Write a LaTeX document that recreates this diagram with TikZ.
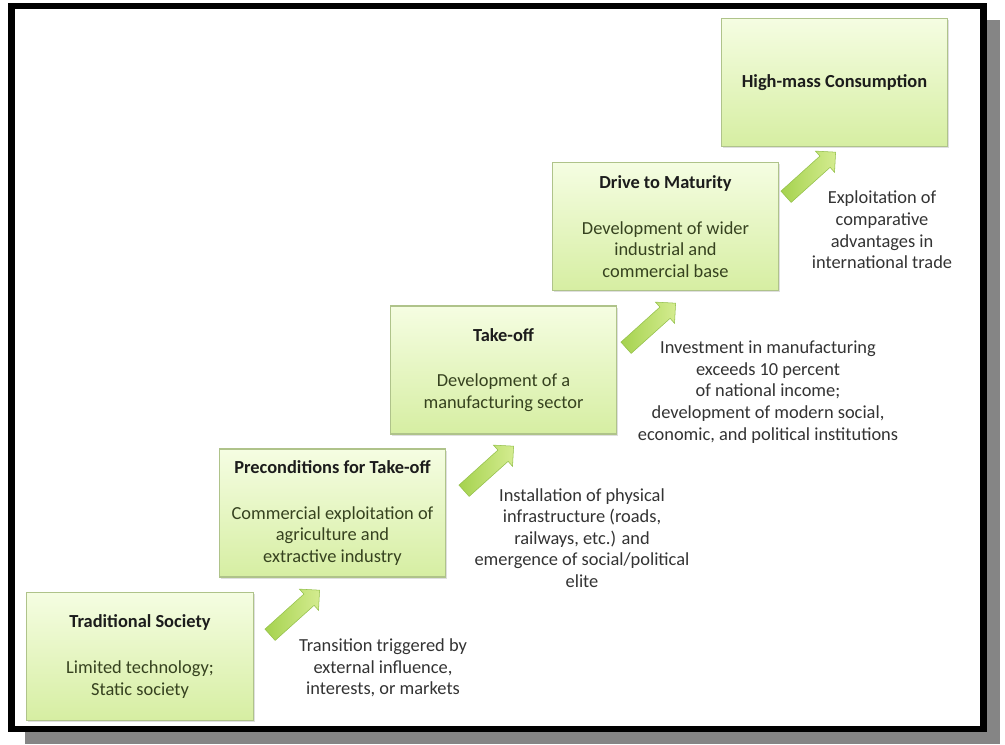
\documentclass[tikz,border=0pt]{standalone}
\usepackage{fontspec}
\setmainfont{Carlito}
\usetikzlibrary{shapes.arrows,shadows}
\definecolor{boxborder}{HTML}{AFC38A}
\definecolor{boxtop}{HTML}{F5FDE2}
\definecolor{boxbot}{HTML}{D6EEA2}
\definecolor{bodytext}{HTML}{36421F}
\definecolor{titletext}{HTML}{1C1C1C}
\definecolor{desctext}{HTML}{333333}
\definecolor{arrowA}{HTML}{D4EC90}
\definecolor{arrowB}{HTML}{A5D24E}
\definecolor{arrowborder}{HTML}{93C04A}
\definecolor{frameshadow}{HTML}{858585}
\begin{document}
\begin{tikzpicture}[x=0.75pt,y=-0.75pt,
  stagebox/.style={draw=boxborder, line width=0.8pt, top color=boxtop, bottom color=boxbot,
    minimum width=170pt, minimum height=96pt, align=center, text=bodytext,
    font=\fontsize{13.8}{16.2}\selectfont,
    drop shadow={shadow xshift=1.2pt, shadow yshift=-1.2pt, opacity=0.25}},
  greenarrow/.style={single arrow, draw=arrowborder, line width=0.4pt,
    left color=arrowB, right color=arrowA, inner xsep=0pt, inner ysep=5.5pt,
    single arrow head extend=5pt, single arrow head indent=0pt,
    minimum height=50pt, rotate=42},
  desc/.style={align=center, text=desctext, font=\fontsize{13.8}{16.2}\selectfont, inner sep=0pt}
]
\useasboundingbox (0,0) rectangle (1005,744);
% frame with shadow
\fill[frameshadow] (25,20) rectangle (1000,744);
\filldraw[fill=white, draw=black, line width=5pt] (11.5,6) rectangle (983.5,729);

% stage boxes
\node[stagebox] (s1) at (140,656.5) {\textcolor{titletext}{\textbf{Traditional Society}}\\[18pt]Limited technology;\\Static society};
\node[stagebox] (s2) at (332.5,513) {\textcolor{titletext}{\textbf{Preconditions for Take-off}}\\[18pt]Commercial exploitation of\\agriculture and\\extractive industry};
\node[stagebox] (s3) at (503.5,370) {\textcolor{titletext}{\textbf{Take-off}}\\[18pt]Development of a\\manufacturing sector};
\node[stagebox] (s4) at (665.5,226.5) {\textcolor{titletext}{\textbf{Drive to Maturity}}\\[18pt]Development of wider\\industrial and\\commercial base};
\node[stagebox] (s5) at (834.5,82.5) {\textcolor{titletext}{\textbf{High-mass Consumption}}};

% arrows
\node[greenarrow] (a1) at (292,615) {};
\node[greenarrow] (a2) at (486,471) {};
\node[greenarrow] (a3) at (648,328) {};
\node[greenarrow] (a4) at (808,177) {};

% descriptions
\node[desc] (d1) at (383,668) {Transition triggered by\\external influence,\\interests, or markets};
\node[desc] (d2) at (582,538) {Installation of physical\\infrastructure (roads,\\railways, etc.) and\\emergence of social/political\\elite};
\node[desc] (d3) at (768,392) {Investment in manufacturing\\exceeds 10 percent\\of national income;\\development of modern social,\\economic, and political institutions};
\node[desc] (d4) at (882,230) {Exploitation of\\comparative\\advantages in\\international trade};
\end{tikzpicture}
\end{document}
